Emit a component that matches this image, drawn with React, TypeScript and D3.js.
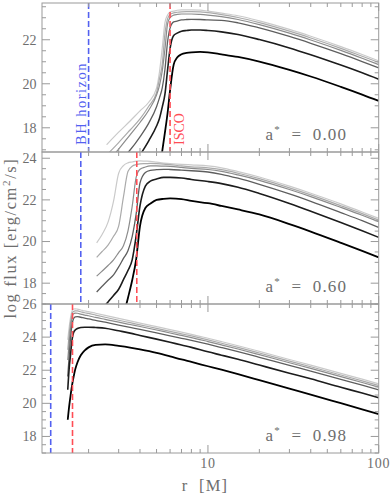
import React from 'react';
import * as d3 from 'd3';

const W = 392;
const H = 497;
const PLOT_LEFT = 42;
const PLOT_RIGHT = 378.7;
const PANEL_Y: [number, number][] = [[3, 152], [152, 304], [304, 453]];

// ---------- data ----------
const spinLabels = ['0.00', '0.60', '0.98'];
const horizonR = [2.0, 1.8, 1.2];
const iscoR = [6.0, 3.83, 1.61];
const xDomain: [number, number] = [1.067, 100];
const yDomains: [number, number][] = [[16.9, 23.67], [17.0, 24.3], [17.0, 26.0]];
const yMajorTicks = [[18, 20, 22], [18, 20, 22, 24], [18, 20, 22, 24, 26]];
const xLabelTicks = [10, 100];
const xMinorTicks = [2, 3, 4, 5, 6, 7, 8, 9, 20, 30, 40, 50, 60, 70, 80, 90];

// a* = 0.00
const rA000 = [2.55, 3, 3.5, 4, 4.5, 5, 5.2, 5.4, 5.6, 5.8, 6, 6.3, 6.6, 7, 7.5, 8, 9, 10, 12, 15, 20, 30, 40, 60, 80, 100];
const fluxA000_1 = [17.23, 17.8, 18.31, 18.77, 19.16, 19.8, 20.53, 21.62, 22.78, 23.12, 23.26, 23.3, 23.34, 23.36, 23.36, 23.36, 23.35, 23.3, 23.21, 23.09, 22.86, 22.47, 22.16, 21.69, 21.33, 21.04];
const fluxA000_2 = [16.76, 17.33, 17.9, 18.4, 18.98, 19.6, 20.22, 20.9, 22.28, 22.95, 23.15, 23.22, 23.25, 23.27, 23.28, 23.28, 23.27, 23.23, 23.14, 23.01, 22.78, 22.39, 22.08, 21.61, 21.25, 20.97];
const fluxA000_3 = [16.4, 17.03, 17.68, 18.24, 18.8, 19.49, 19.92, 20.58, 21.58, 22.71, 23.01, 23.12, 23.15, 23.17, 23.17, 23.17, 23.15, 23.12, 23.05, 22.92, 22.69, 22.3, 21.99, 21.52, 21.16, 20.87];
const fluxA000_4 = [null, 16.45, 16.99, 17.59, 18.21, 18.96, 19.36, 19.81, 20.65, 21.9, 22.53, 22.81, 22.85, 22.9, 22.92, 22.93, 22.92, 22.9, 22.88, 22.77, 22.54, 22.15, 21.84, 21.37, 21.01, 20.72];
const fluxA000_5 = [null, null, null, 16.76, 17.41, 18.08, 18.42, 18.94, 19.53, 20.62, 21.6, 22.19, 22.3, 22.39, 22.42, 22.44, 22.44, 22.42, 22.36, 22.24, 22.01, 21.63, 21.32, 20.85, 20.5, 20.21];
const fluxA000_6 = [null, null, null, null, null, null, 16.08, 16.94, 17.79, 18.66, 19.7, 20.87, 21.19, 21.34, 21.4, 21.43, 21.45, 21.43, 21.34, 21.22, 21.01, 20.63, 20.33, 19.86, 19.51, 19.22];

// a* = 0.60
const rA060 = [2.23, 2.4, 2.6, 2.8, 3.0, 3.2, 3.4, 3.6, 3.8, 4.0, 4.3, 4.6, 5, 5.5, 6, 7, 8, 10, 12, 15, 20, 30, 40, 60, 80, 100];
const fluxA060_1 = [19.94, 20.34, 20.93, 21.94, 23.28, 23.65, 23.78, 23.82, 23.86, 23.87, 23.86, 23.85, 23.81, 23.77, 23.74, 23.71, 23.68, 23.63, 23.54, 23.36, 23.1, 22.66, 22.32, 21.81, 21.42, 21.11];
const fluxA060_2 = [19.24, 19.52, 19.83, 20.25, 20.74, 22.14, 23.36, 23.62, 23.69, 23.73, 23.74, 23.75, 23.74, 23.72, 23.69, 23.63, 23.59, 23.54, 23.45, 23.28, 23.02, 22.58, 22.24, 21.72, 21.34, 21.03];
const fluxA060_3 = [18.34, 18.58, 18.85, 19.12, 19.47, 19.8, 20.5, 21.69, 23.09, 23.47, 23.58, 23.63, 23.63, 23.62, 23.61, 23.56, 23.51, 23.46, 23.37, 23.2, 22.94, 22.5, 22.16, 21.64, 21.26, 20.95];
const fluxA060_4 = [17.58, 17.85, 18.14, 18.4, 18.78, 19.19, 19.56, 20.24, 21.34, 22.81, 23.32, 23.42, 23.45, 23.47, 23.46, 23.43, 23.4, 23.34, 23.23, 23.04, 22.75, 22.29, 21.93, 21.39, 21.0, 20.68];
const fluxA060_5 = [16.47, 16.77, 17.1, 17.41, 17.71, 18.17, 18.61, 19.12, 20.28, 21.71, 22.66, 22.9, 23.0, 23.08, 23.08, 23.05, 22.98, 22.88, 22.78, 22.61, 22.31, 21.83, 21.46, 20.92, 20.52, 20.2];
const fluxA060_6 = [null, null, null, null, null, 16.43, 17.29, 18.14, 19.16, 20.74, 21.61, 21.82, 22.0, 22.05, 22.07, 22.04, 21.95, 21.84, 21.71, 21.54, 21.3, 20.84, 20.48, 19.94, 19.55, 19.24];

// a* = 0.98
const rA098 = [1.51, 1.54, 1.57, 1.6, 1.63, 1.67, 1.72, 1.8, 1.9, 2.0, 2.2, 2.5, 3, 3.5, 4, 5, 6, 7, 8, 10, 12, 15, 20, 30, 40, 60, 80, 100];
const fluxA098_1 = [23.83, 24.61, 25.22, 25.58, 25.7, 25.71, 25.69, 25.64, 25.58, 25.54, 25.44, 25.31, 25.13, 24.98, 24.85, 24.63, 24.45, 24.3, 24.17, 23.93, 23.73, 23.48, 23.14, 22.65, 22.31, 21.81, 21.46, 21.18];
const fluxA098_2 = [23.23, 24.2, 24.95, 25.4, 25.55, 25.59, 25.58, 25.53, 25.47, 25.43, 25.33, 25.2, 25.02, 24.87, 24.74, 24.53, 24.35, 24.2, 24.07, 23.83, 23.63, 23.38, 23.04, 22.55, 22.21, 21.71, 21.36, 21.08];
const fluxA098_3 = [22.62, 23.7, 24.6, 25.18, 25.4, 25.45, 25.44, 25.39, 25.33, 25.29, 25.19, 25.07, 24.9, 24.76, 24.64, 24.43, 24.25, 24.1, 23.97, 23.73, 23.53, 23.28, 22.94, 22.45, 22.11, 21.61, 21.26, 20.98];
const fluxA098_4 = [21.62, 22.9, 24.0, 24.75, 25.1, 25.22, 25.24, 25.2, 25.14, 25.1, 25.01, 24.9, 24.73, 24.59, 24.47, 24.26, 24.08, 23.93, 23.8, 23.57, 23.37, 23.12, 22.78, 22.29, 21.95, 21.45, 21.1, 20.82];
const fluxA098_5 = [20.82, 22.14, 22.99, 23.83, 24.25, 24.43, 24.52, 24.58, 24.6, 24.6, 24.58, 24.54, 24.38, 24.24, 24.1, 23.88, 23.69, 23.52, 23.38, 23.11, 22.91, 22.66, 22.31, 21.82, 21.48, 20.97, 20.62, 20.34];
const fluxA098_6 = [19.01, 19.85, 20.51, 21.09, 21.54, 22.05, 22.47, 22.9, 23.2, 23.38, 23.53, 23.56, 23.47, 23.37, 23.26, 23.05, 22.84, 22.65, 22.5, 22.24, 22.03, 21.76, 21.4, 20.89, 20.53, 20.01, 19.64, 19.35];

const panelR = [rA000, rA060, rA098];
const panelFlux = [
  [fluxA000_1, fluxA000_2, fluxA000_3, fluxA000_4, fluxA000_5, fluxA000_6],
  [fluxA060_1, fluxA060_2, fluxA060_3, fluxA060_4, fluxA060_5, fluxA060_6],
  [fluxA098_1, fluxA098_2, fluxA098_3, fluxA098_4, fluxA098_5, fluxA098_6],
];

// ---------- styles ----------
const curveColors = ['#cacaca', '#ababab', '#8c8c8c', '#5e5e5e', '#1c1c1c', '#000000'];
const curveWidths = [1.2, 1.2, 1.2, 1.3, 1.6, 1.8];
const AXIS = '#9a9a9a';
const TEXT = '#6e6e6e';
const BLUE = '#5361f0';
const RED = '#ff4d55';
const FONT = '"Liberation Serif", "Times New Roman", serif';

const x = d3.scaleLog().domain(xDomain).range([PLOT_LEFT, PLOT_RIGHT]);

function Panel({ i }: { i: number }) {
  const [top, bottom] = PANEL_Y[i];
  const y = d3.scaleLinear().domain(yDomains[i]).range([bottom, top]);
  const rs = panelR[i];
  const line = d3
    .line<[number, number | null]>()
    .defined((d) => d[1] != null)
    .x((d) => x(d[0]))
    .y((d) => y(d[1] as number))
    .curve(d3.curveMonotoneX);

  const [y0, y1] = yDomains[i];
  const yMinor: number[] = [];
  for (let v = Math.ceil(y0 * 2) / 2; v <= y1 + 1e-9; v += 0.5) {
    if (Math.abs(v / 2 - Math.round(v / 2)) > 1e-6) yMinor.push(v);
    else if (!yMajorTicks[i].includes(v)) yMinor.push(v);
  }
  const MAJ = 8;
  const MIN = 4;
  const clipId = `clip-panel-${i}`;
  const xh = x(horizonR[i]);
  const xi = x(iscoR[i]);

  return (
    <g>
      <defs>
        <clipPath id={clipId}>
          <rect x={PLOT_LEFT} y={top} width={PLOT_RIGHT - PLOT_LEFT} height={bottom - top} />
        </clipPath>
      </defs>
      <g clipPath={`url(#${clipId})`}>
        {panelFlux[i].map((series, k) => (
          <path
            key={k}
            d={line(rs.map((r, j) => [r, series[j]] as [number, number | null])) || ''}
            fill="none"
            stroke={curveColors[k]}
            strokeWidth={curveWidths[k]}
            strokeLinejoin="round"
          />
        ))}
        <line x1={xh} x2={xh} y1={top} y2={bottom} stroke={BLUE} strokeWidth={1.6} strokeDasharray="6 3" />
        <line x1={xi} x2={xi} y1={top} y2={bottom} stroke={RED} strokeWidth={1.6} strokeDasharray="6 3" />
      </g>
      {/* frame */}
      <rect x={PLOT_LEFT} y={top} width={PLOT_RIGHT - PLOT_LEFT} height={bottom - top} fill="none" stroke={AXIS} strokeWidth={1} />
      {/* x ticks */}
      {xLabelTicks.map((t) => (
        <g key={`xM${t}`}>
          <line x1={x(t)} x2={x(t)} y1={bottom} y2={bottom - MAJ} stroke={AXIS} />
          <line x1={x(t)} x2={x(t)} y1={top} y2={top + MAJ} stroke={AXIS} />
        </g>
      ))}
      {xMinorTicks.map((t) => (
        <g key={`xm${t}`}>
          <line x1={x(t)} x2={x(t)} y1={bottom} y2={bottom - MIN} stroke={AXIS} />
          <line x1={x(t)} x2={x(t)} y1={top} y2={top + MIN} stroke={AXIS} />
        </g>
      ))}
      {/* y ticks */}
      {yMajorTicks[i].map((t) => (
        <g key={`yM${t}`}>
          <line x1={PLOT_LEFT} x2={PLOT_LEFT + MAJ} y1={y(t)} y2={y(t)} stroke={AXIS} />
          <line x1={PLOT_RIGHT} x2={PLOT_RIGHT - MAJ} y1={y(t)} y2={y(t)} stroke={AXIS} />
          <text
            x={36.5}
            y={y(t)}
            dy="0.35em"
            textAnchor="end"
            fontFamily={FONT}
            fontSize={14}
            fill={TEXT}
          >
            {t}
          </text>
        </g>
      ))}
      {yMinor.map((t) => (
        <g key={`ym${t}`}>
          <line x1={PLOT_LEFT} x2={PLOT_LEFT + MIN} y1={y(t)} y2={y(t)} stroke={AXIS} />
          <line x1={PLOT_RIGHT} x2={PLOT_RIGHT - MIN} y1={y(t)} y2={y(t)} stroke={AXIS} />
        </g>
      ))}
      {/* spin label */}
      <text
        x={347}
        y={bottom - 12}
        textAnchor="end"
        fontFamily={FONT}
        fontSize={17}
        fill={TEXT}
        letterSpacing={1.1}
        style={{ whiteSpace: 'pre' }}
      >
        a
        <tspan fontSize={11} dy={-7}>*</tspan>
        <tspan dy={7}>{'  =  ' + spinLabels[i]}</tspan>
      </text>
      {i === 0 && (
        <g>
          <text
            transform={`translate(${xh - 2.5},${bottom - 7}) rotate(-90)`}
            fontFamily={FONT}
            fontSize={14.5}
            fill={BLUE}
            letterSpacing={1.5}
          >
            BH horizon
          </text>
          <text
            transform={`translate(${xi + 13.5},${bottom - 7}) rotate(-90)`}
            fontFamily={FONT}
            fontSize={14}
            fill={RED}
          >
            ISCO
          </text>
        </g>
      )}
    </g>
  );
}

export default function App() {
  const last = PANEL_Y[2][1];
  return (
    <svg
      width={W}
      height={H}
      viewBox={`0 0 ${W} ${H}`}
      style={{ position: 'absolute', left: 0, top: 0, background: '#fff' }}
    >
      <rect width={W} height={H} fill="#fff" />
      {[0, 1, 2].map((i) => (
        <Panel key={i} i={i} />
      ))}
      {xLabelTicks.map((t) => (
        <text
          key={`xl${t}`}
          x={x(t)}
          y={last + 15}
          textAnchor="middle"
          fontFamily={FONT}
          fontSize={14}
          fill={TEXT}
          letterSpacing={0.8}
        >
          {t}
        </text>
      ))}
      <text
        x={205}
        y={491}
        textAnchor="middle"
        fontFamily={FONT}
        fontSize={16.5}
        fill={TEXT}
        letterSpacing={1.2}
        style={{ whiteSpace: 'pre' }}
      >
        {'r  [M]'}
      </text>
      <text
        transform={`translate(15.5,${(PANEL_Y[0][0] + last) / 2 + 10}) rotate(-90)`}
        textAnchor="middle"
        fontFamily={FONT}
        fontSize={16.5}
        fill={TEXT}
        letterSpacing={1.6}
      >
        log flux [erg/cm
        <tspan fontSize={11} dy={-6}>2</tspan>
        <tspan dy={6}>/s]</tspan>
      </text>
    </svg>
  );
}
